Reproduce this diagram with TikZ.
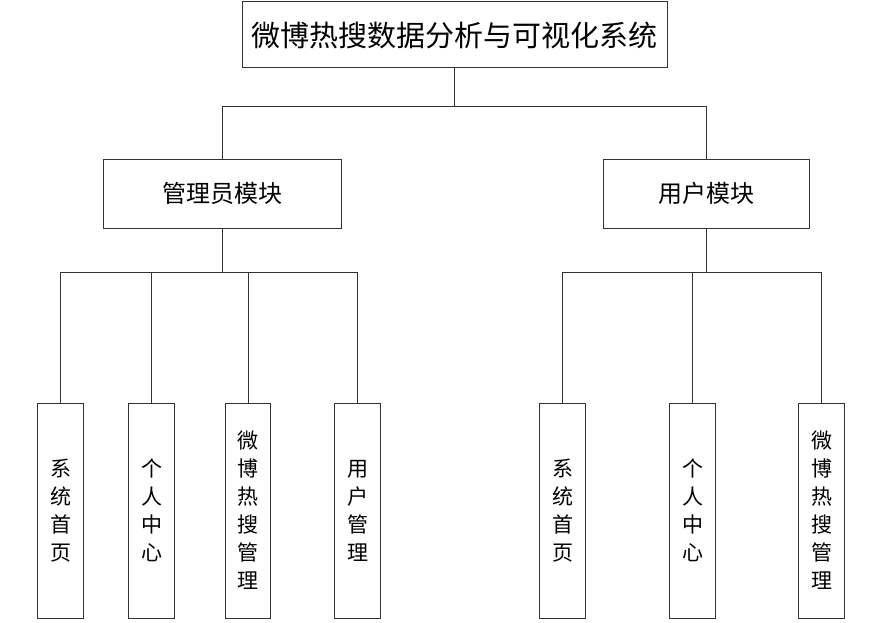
\documentclass[tikz,border=0pt]{standalone}
\usepackage{fontspec}
\newfontfamily\cjk{Noto Sans CJK SC}
\begin{document}
\begin{tikzpicture}[x=1pt,y=-1pt,
  box/.style={draw=black!80,line width=1pt,fill=white,inner sep=0pt,align=center,font=\cjk},
  titlebox/.style={box,minimum width=425pt,minimum height=66pt,font=\cjk\fontsize{29}{34}\selectfont},
  modbox/.style={box,minimum height=69pt,font=\cjk\fontsize{24}{29}\selectfont},
  leafbox/.style={box,minimum width=45.5pt,minimum height=215pt,font=\cjk\fontsize{21}{28}\selectfont},
  link/.style={draw=black!80,line width=1pt}]
\useasboundingbox (0,0) rectangle (880,623);
\node[titlebox] (top) at (454.5,35) {微博热搜数据分析与可视化系统};
\node[modbox,minimum width=238pt] (admin) at (222,193.5) {管理员模块};
\node[modbox,minimum width=206pt] (user) at (706,193.5) {用户模块};
\node[leafbox] (a1) at (60.5,510.5) {系\\统\\首\\页};
\node[leafbox] (a2) at (151.5,510.5) {个\\人\\中\\心};
\node[leafbox] (a3) at (248,510.5) {微\\博\\热\\搜\\管\\理};
\node[leafbox] (a4) at (357.5,510.5) {用\\户\\管\\理};
\node[leafbox] (u1) at (562.5,510.5) {系\\统\\首\\页};
\node[leafbox] (u2) at (692.5,510.5) {个\\人\\中\\心};
\node[leafbox] (u3) at (821.5,510.5) {微\\博\\热\\搜\\管\\理};
\coordinate (j0) at (454.5,107);
\coordinate (j1) at (222,272.5);
\coordinate (j2) at (706,272.5);
\draw[link] (top.south) -- (j0);
\draw[link] (j0) -| (admin.north);
\draw[link] (j0) -| (user.north);
\draw[link] (admin.south) -- (j1);
\draw[link] (user.south) -- (j2);
\foreach \n in {a1,a2,a3,a4} \draw[link] (j1) -| (\n.north);
\foreach \n in {u1,u2,u3} \draw[link] (j2) -| (\n.north);
\end{tikzpicture}
\end{document}
